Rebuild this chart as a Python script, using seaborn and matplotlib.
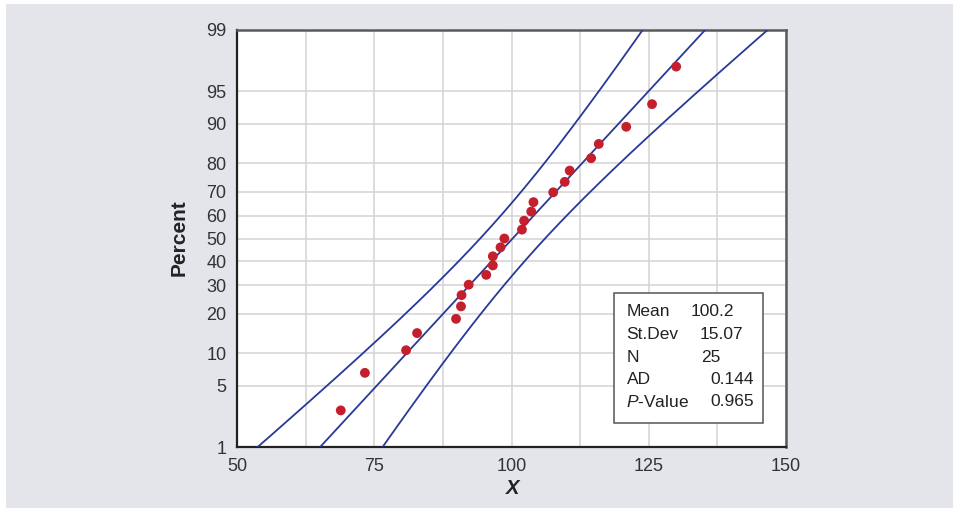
import numpy as np
import pandas as pd
import matplotlib
matplotlib.use("Agg")
import matplotlib.pyplot as plt
from matplotlib.patches import Rectangle
from matplotlib.ticker import FixedLocator, MultipleLocator, NullFormatter
import seaborn as sns
from statistics import NormalDist

# ---------------- data ----------------
x_values = [68.9, 73.3, 80.8, 82.8, 89.9, 90.8, 90.9, 92.2, 95.4, 96.6, 96.6,
            98.0, 98.7, 101.9, 102.3, 103.6, 104.0, 107.6, 109.7, 110.6,
            114.5, 115.9, 120.9, 125.6, 130.0]
mean_val = 100.2
sd_val = 15.07
n_val = 25
ad_val = 0.144
p_val = 0.965
percent_ticks = [1, 5, 10, 20, 30, 40, 50, 60, 70, 80, 90, 95, 99]
x_ticks = [50, 75, 100, 125, 150]
stat_labels = ["Mean", "St.Dev", "N", "AD", "$P$-Value"]
stat_values = ["100.2", "15.07", "25", "0.144", "0.965"]

# ---------------- style ----------------
sns.set_theme(style="white")
plt.rcParams["font.family"] = ["Liberation Sans", "DejaVu Sans"]
plt.rcParams["mathtext.fontset"] = "custom"
plt.rcParams["mathtext.rm"] = "Liberation Sans"
plt.rcParams["mathtext.it"] = "Liberation Sans:italic"

W, H = 954, 508
fig = plt.figure(figsize=(W / 100, H / 100), dpi=100)
fig.patch.set_facecolor("white")
fig.add_artist(Rectangle((6 / W, 0), 1, 1 - 4 / H, transform=fig.transFigure,
                         facecolor="#e4e5eb", edgecolor="none", zorder=-10))

ax_l, ax_r, ax_t, ax_b = 237, 786, 30, 447
ax = fig.add_axes([ax_l / W, 1 - ax_b / H, (ax_r - ax_l) / W, (ax_b - ax_t) / H])
ax.set_facecolor("white")

_nd = NormalDist()
_ppf = np.vectorize(lambda q: _nd.inv_cdf(q), otypes=[float])
_cdf = np.vectorize(lambda z: _nd.cdf(z), otypes=[float])


def fwd(p):
    p = np.asarray(p, dtype=float)
    if p.size == 0:
        return p
    return _ppf(np.clip(p / 100.0, 1e-9, 1 - 1e-9))


def inv(z):
    z = np.asarray(z, dtype=float)
    if z.size == 0:
        return z
    return _cdf(z) * 100.0


ax.set_yscale("function", functions=(fwd, inv))

# points with median-rank plotting positions
xs = np.sort(np.array(x_values))
ranks = np.arange(1, len(xs) + 1)
pct = (ranks - 0.3) / (len(xs) + 0.4) * 100
df_pts = pd.DataFrame({"x": xs, "pct": pct})

# fitted line and 95% confidence bands
z = np.linspace(-2.6, 2.6, 300)
half = 1.96 * sd_val * np.sqrt((1 + z ** 2 / 2) / n_val)
curves = []
for name, xv in [("fit", mean_val + z * sd_val),
                 ("lo", mean_val + z * sd_val - half),
                 ("hi", mean_val + z * sd_val + half)]:
    curves.append(pd.DataFrame({"x": xv, "pct": inv(z), "curve": name}))
df_lines = pd.concat(curves, ignore_index=True)

line_color = "#2a3897"
sns.lineplot(data=df_lines, x="x", y="pct", units="curve", estimator=None,
             sort=False, color=line_color, lw=1.3, ax=ax, zorder=3)
sns.scatterplot(data=df_pts, x="x", y="pct", color="#c41f2d", s=50,
                edgecolor="none", ax=ax, zorder=4)

ax.set_xlim(50, 150)
ax.set_ylim(1, 99)
ax.yaxis.set_major_locator(FixedLocator(percent_ticks))
ax.yaxis.set_minor_locator(FixedLocator([]))
ax.set_yticklabels([str(t) for t in percent_ticks])
ax.xaxis.set_major_locator(FixedLocator(x_ticks))
ax.xaxis.set_minor_locator(MultipleLocator(12.5))
ax.xaxis.set_minor_formatter(NullFormatter())

ax.grid(True, which="both", color="#d3d3d3", lw=1.1, zorder=0)
ax.set_axisbelow(True)

ax.tick_params(axis="both", which="major", direction="out", labelsize=13,
               colors="#333333", length=5, width=1.2)
ax.tick_params(axis="y", which="major", pad=2.5)
ax.tick_params(axis="x", which="major", pad=3)
ax.tick_params(axis="both", which="minor", length=0)
ax.tick_params(axis="y", which="minor", left=False)

for side in ["left", "bottom"]:
    ax.spines[side].set_color("#222222")
    ax.spines[side].set_linewidth(1.6)
for side in ["top", "right"]:
    ax.spines[side].set_color("#5a5a5a")
    ax.spines[side].set_linewidth(1.8)
    ax.spines[side].set_visible(True)

ax.set_xlabel("")
ax.set_ylabel("")
fig.text(179 / W, 1 - 238 / H, "Percent", rotation=90, ha="center", va="center",
         fontsize=15, fontweight="bold", color="#222222")
fig.text(513 / W, 1 - 489 / H, "X", ha="center", va="center",
         fontsize=14.5, fontweight="bold", style="italic", color="#222222")

# stats box
bx0, bx1, by0, by1 = 614, 763, 293, 423
fig.add_artist(Rectangle((bx0 / W, 1 - by1 / H), (bx1 - bx0) / W, (by1 - by0) / H,
                         transform=fig.transFigure, facecolor="white",
                         edgecolor="#555555", lw=1.1, zorder=5))
row_y = [312, 334.5, 357, 379.5, 402]
val_x = [691, 700, 701, 710, 710]
for lab, val, yy, vx in zip(stat_labels, stat_values, row_y, val_x):
    fig.text(626.5 / W, 1 - yy / H, lab, ha="left", va="center", fontsize=12.5,
             color="#222222", zorder=6)
    fig.text(vx / W, 1 - yy / H, val, ha="left", va="center", fontsize=12.5,
             color="#222222", zorder=6)

fig.savefig("out.png", dpi=100, facecolor=fig.get_facecolor())
